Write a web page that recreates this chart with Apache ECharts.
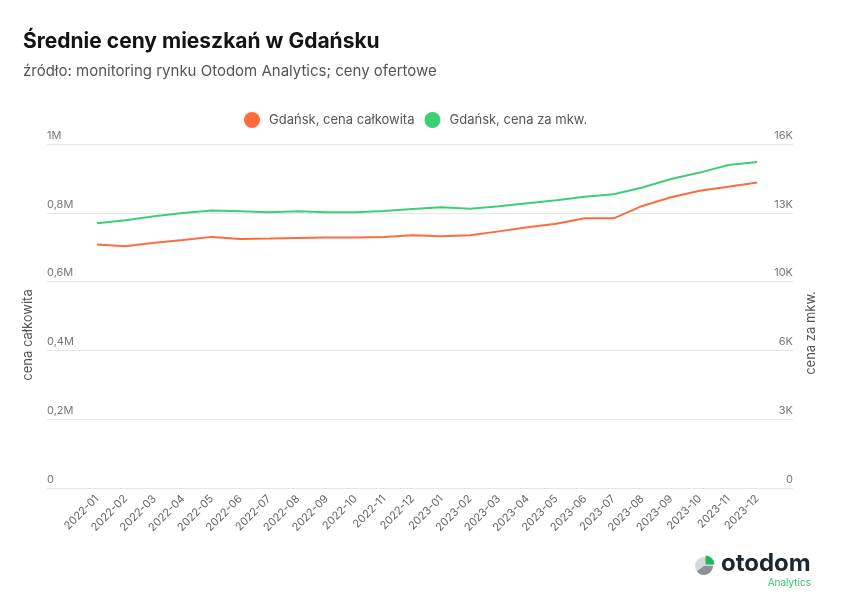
<!DOCTYPE html>
<html>
<head>
<meta charset="utf-8">
<script src="https://cdn.jsdelivr.net/npm/echarts@6/dist/echarts.min.js"></script>
<style>html,body{margin:0;padding:0;background:#fff}#c{width:842px;height:600px}</style>
</head>
<body>
<div id="c"></div>
<script>
var categories = ['2022-01','2022-02','2022-03','2022-04','2022-05','2022-06','2022-07','2022-08','2022-09','2022-10','2022-11','2022-12','2023-01','2023-02','2023-03','2023-04','2023-05','2023-06','2023-07','2023-08','2023-09','2023-10','2023-11','2023-12'];
var totalPrice = [708000,703000,713000,721000,730000,724000,725000,727000,728000,728000,730000,735000,732000,735000,746000,758000,768000,784000,784000,820000,845000,864000,876000,888000];
var pricePerSqm = [12310,12450,12640,12790,12910,12870,12830,12870,12830,12830,12880,12980,13060,12990,13100,13240,13380,13550,13660,13980,14370,14670,15020,15160];
var leftTicks = ['0','0,2M','0,4M','0,6M','0,8M','1M'];
var rightTicks = ['0','3K','6K','10K','13K','16K'];

var FONT = 'Inter, "Noto Sans", sans-serif';
var chart = echarts.init(document.getElementById('c'), null, {renderer: 'canvas'});
var idx = categories.map(function (_, i) { return i; });

chart.setOption({
  backgroundColor: '#fff',
  textStyle: {fontFamily: FONT},
  title: [
    {text: 'Średnie ceny mieszkań w Gdańsku', left: 18, top: 26,
     textStyle: {fontFamily: FONT, fontSize: 21, fontWeight: 'bold', color: '#141414'}},
    {text: 'źródło: monitoring rynku Otodom Analytics; ceny ofertowe', left: 18, top: 59,
     textStyle: {fontFamily: FONT, fontSize: 15, fontWeight: 'normal', color: '#555'}}
  ],
  legend: {
    top: 107, left: 239, icon: 'circle', itemWidth: 16, itemHeight: 16, itemGap: 10,
    textStyle: {fontFamily: FONT, fontSize: 13, color: '#555', padding: [0, 0, 0, 4]},
    data: ['Gdańsk, cena całkowita', 'Gdańsk, cena za mkw.']
  },
  grid: {left: 47, right: 49, top: 144, bottom: 112},
  xAxis: {
    type: 'value', min: -1.74, max: 24.25,
    axisLine: {show: false}, axisTick: {show: false}, splitLine: {show: false},
    axisLabel: {
      customValues: idx, rotate: 45, margin: 9, fontSize: 11, color: '#666', fontFamily: FONT,
      formatter: function (v) { return categories[Math.round(v)]; }
    }
  },
  yAxis: [
    {
      type: 'value', min: 0, max: 1000000, interval: 200000, position: 'left',
      name: 'cena całkowita', nameLocation: 'middle', nameRotate: 90, nameGap: 12,
      nameTextStyle: {fontFamily: FONT, fontSize: 13, color: '#555', padding: [0, 38, 0, 0]},
      axisLine: {show: false}, axisTick: {show: false},
      splitLine: {lineStyle: {color: '#e6e6e6', width: 1}},
      axisLabel: {inside: true, margin: 0, verticalAlign: 'bottom', padding: [0, 0, 3, 0],
        fontSize: 11, color: '#777', fontFamily: FONT,
        formatter: function (v) { return leftTicks[Math.round(v / 200000)]; }}
    },
    {
      type: 'value', min: 0, max: 16000, interval: 3200, position: 'right',
      name: 'cena za mkw.', nameLocation: 'middle', nameRotate: 90, nameGap: 12,
      nameTextStyle: {fontFamily: FONT, fontSize: 13, color: '#555', padding: [0, 34, 0, 0]},
      axisLine: {show: false}, axisTick: {show: false}, splitLine: {show: false},
      axisLabel: {inside: true, margin: 0, verticalAlign: 'bottom', padding: [0, 0, 3, 0],
        fontSize: 11, color: '#777', fontFamily: FONT,
        formatter: function (v) { return rightTicks[Math.round(v / 3200)]; }}
    }
  ],
  series: [
    {name: 'Gdańsk, cena całkowita', type: 'line', yAxisIndex: 0, symbol: 'none',
     color: '#FF6B3D', lineStyle: {width: 2, color: '#FF6B3D'},
     data: totalPrice.map(function (v, i) { return [i, v]; })},
    {name: 'Gdańsk, cena za mkw.', type: 'line', yAxisIndex: 1, symbol: 'none',
     color: '#3DCF75', lineStyle: {width: 2, color: '#3DCF75'},
     data: pricePerSqm.map(function (v, i) { return [i, v]; })}
  ],
  graphic: [
    {type: 'circle', shape: {cx: 704, cy: 566, r: 9}, style: {fill: '#d6dadf'}},
    {type: 'sector', shape: {cx: 704, cy: 566, r: 9, r0: 0, startAngle: 0, endAngle: Math.PI * 0.8}, style: {fill: '#8b9199'}},
    {type: 'sector', shape: {cx: 705.5, cy: 564.5, r: 9, r0: 0, startAngle: -Math.PI / 2, endAngle: 0}, style: {fill: '#1db954'}},
    {type: 'text', left: 721, top: 552, style: {text: 'otodom', fontFamily: FONT, fontSize: 24, fontWeight: 'bold', fill: '#1e2731'}},
    {type: 'text', right: 31, top: 578, style: {text: 'Analytics', fontFamily: FONT, fontSize: 10, fill: '#35c56a'}}
  ]
});
</script>
</body>
</html>
